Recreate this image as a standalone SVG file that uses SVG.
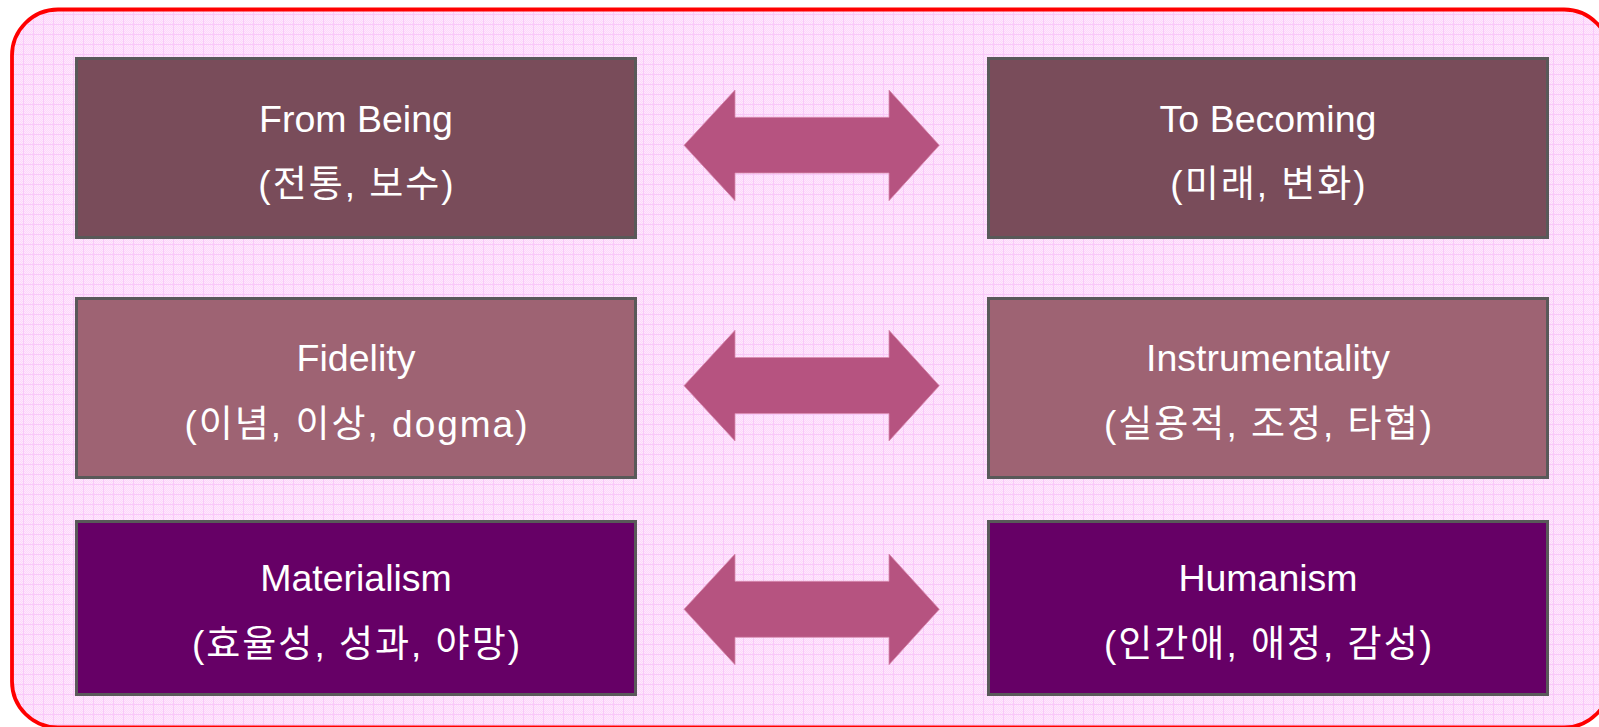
<svg xmlns="http://www.w3.org/2000/svg" width="1599" height="727" viewBox="0 0 1599 727">
  <defs>
    <pattern id="dots" patternUnits="userSpaceOnUse" width="2" height="2">
      <rect width="2" height="2" fill="#ffe6ff"/>
      <rect width="1" height="1" fill="#fcdaf9"/>
      <rect x="1" y="1" width="1" height="1" fill="#fcdaf9"/>
    </pattern>
    <pattern id="grid" patternUnits="userSpaceOnUse" x="3" y="4" width="10" height="10">
      <rect width="10" height="10" fill="url(#dots)"/>
      <rect x="0" y="0" width="10" height="1" fill="#f9c8f9"/>
      <rect x="0" y="0" width="1" height="10" fill="#f9c8f9"/>
    </pattern>
    <clipPath id="frameClip">
      <rect x="12" y="9.5" width="1598" height="718" rx="46" ry="46"/>
    </clipPath>
    <style>
      .box { stroke: #595959; stroke-width: 3; }
      .r1 { fill: #794c5a; }
      .r2 { fill: #9e6373; }
      .r3 { fill: #660066; }
      .arrow { fill: #b65380; stroke: #d98cb0; stroke-width: 0.8; }
      .t1 { font-family: "Liberation Sans", Arial, sans-serif; font-size: 37.5px; fill: #ffffff; text-anchor: middle; }
      .t2 { font-family: "Liberation Sans", "Noto Sans CJK KR", sans-serif; font-size: 37px; fill: #ffffff; text-anchor: middle; letter-spacing: 2px; }
    </style>
  </defs>

  <rect width="1599" height="727" fill="#ffffff"/>
  <g id="frame">
    <rect x="12" y="9.5" width="1598" height="718" rx="46" ry="46" fill="url(#grid)" clip-path="url(#frameClip)"/>
    <rect x="12" y="9.5" width="1598" height="718" rx="46" ry="46" fill="none" stroke="#ff0000" stroke-width="3.8"/>
  </g>

  <g id="connectors">
    <path class="arrow" d="M684,145.3 L735,90 L735,117.3 L889,117.3 L889,90 L939.3,145.3 L889,200.7 L889,173 L735,173 L735,200.7 Z"/>
    <path class="arrow" d="M684,385.7 L735,330.3 L735,357.5 L889,357.5 L889,330.3 L939.3,385.7 L889,441 L889,413.5 L735,413.5 L735,441 Z"/>
    <path class="arrow" d="M684,609.3 L735,554 L735,581.3 L889,581.3 L889,554 L939.3,609.3 L889,664.7 L889,637.3 L735,637.3 L735,664.7 Z"/>
  </g>

  <g id="node-from-being">
    <rect class="box r1" x="76.5" y="58.5" width="559" height="179"/>
    <text class="t1" x="356" y="132">From Being</text>
    <text class="t2" x="357" y="197">(전통, 보수)</text>
  </g>
  <g id="node-to-becoming">
    <rect class="box r1" x="988.5" y="58.5" width="559" height="179"/>
    <text class="t1" x="1268" y="132">To Becoming</text>
    <text class="t2" x="1269" y="197">(미래, 변화)</text>
  </g>
  <g id="node-fidelity">
    <rect class="box r2" x="76.5" y="298.5" width="559" height="179"/>
    <text class="t1" x="356" y="371">Fidelity</text>
    <text class="t2" x="357" y="437">(이념, 이상, dogma)</text>
  </g>
  <g id="node-instrumentality">
    <rect class="box r2" x="988.5" y="298.5" width="559" height="179"/>
    <text class="t1" x="1268" y="371">Instrumentality</text>
    <text class="t2" x="1269" y="437">(실용적, 조정, 타협)</text>
  </g>
  <g id="node-materialism">
    <rect class="box r3" x="76.5" y="521.5" width="559" height="173"/>
    <text class="t1" x="356" y="591">Materialism</text>
    <text class="t2" x="357" y="657">(효율성, 성과, 야망)</text>
  </g>
  <g id="node-humanism">
    <rect class="box r3" x="988.5" y="521.5" width="559" height="173"/>
    <text class="t1" x="1268" y="591">Humanism</text>
    <text class="t2" x="1269" y="657">(인간애, 애정, 감성)</text>
  </g>
</svg>
